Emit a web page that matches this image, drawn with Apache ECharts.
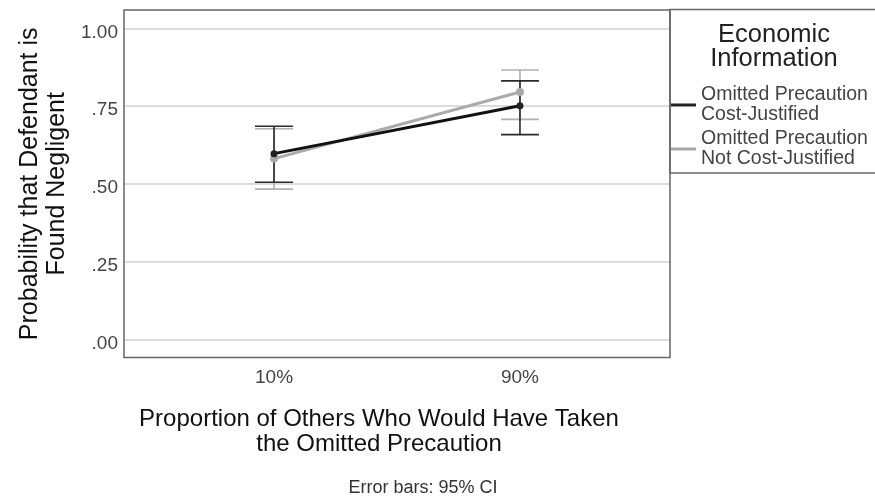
<!DOCTYPE html>
<html>
<head>
<meta charset="utf-8">
<script src="https://cdn.jsdelivr.net/npm/echarts@6/dist/echarts.min.js"></script>
<style>
  html, body { margin: 0; padding: 0; background: #fff; }
  #chart { width: 875px; height: 500px; }
</style>
</head>
<body>
<div id="chart"></div>
<script>
// groups on the x axis (1 = 10%, 2 = 90%)
const categories = ['10%', '90%'];
const xPos = [1, 2];

// Cost-Justified (black)
const justMean = [0.597, 0.751];
const justLow = [0.505, 0.658];
const justHigh = [0.685, 0.831];

// Not Cost-Justified (gray)
const notMean = [0.581, 0.795];
const notLow = [0.483, 0.707];
const notHigh = [0.677, 0.866];

const FONT = 'Liberation Sans, Arial, sans-serif';

function pairs(ys) {
  return xPos.map((x, i) => [x, ys[i]]);
}
function errData(lo, hi) {
  return xPos.map((x, i) => [x, lo[i], hi[i]]);
}

function errorBar(color, width) {
  return function (params, api) {
    const x = api.value(0);
    const top = api.coord([x, api.value(2)]);
    const bot = api.coord([x, api.value(1)]);
    const hw = 19;
    const style = { stroke: color, lineWidth: width };
    return {
      type: 'group',
      children: [
        { type: 'line', shape: { x1: top[0], y1: top[1], x2: bot[0], y2: bot[1] }, style: style },
        { type: 'line', shape: { x1: top[0] - hw, y1: top[1], x2: top[0] + hw, y2: top[1] }, style: style },
        { type: 'line', shape: { x1: bot[0] - hw, y1: bot[1], x2: bot[0] + hw, y2: bot[1] }, style: style }
      ]
    };
  };
}

const chart = echarts.init(document.getElementById('chart'));
chart.setOption({
  animation: false,
  textStyle: { fontFamily: FONT },
  grid: { left: 124, right: 205, top: 28.3, bottom: 160.7, containLabel: false, outerBoundsMode: 'none' },
  title: {
    text: 'Economic\nInformation',
    left: 774, top: 23, textAlign: 'center', padding: 0,
    textStyle: { fontFamily: FONT, fontWeight: 'normal', fontSize: 25.5, color: '#222', lineHeight: 24 }
  },
  legend: {
    orient: 'vertical',
    left: 671, top: 85, padding: 0,
    itemWidth: 25, itemHeight: 3, itemGap: 4,
    icon: 'rect',
    textStyle: { fontFamily: FONT, fontSize: 19.5, color: '#444', lineHeight: 20 },
    data: ['Omitted Precaution\nCost-Justified', 'Omitted Precaution\nNot Cost-Justified']
  },
  xAxis: {
    type: 'value', min: 0.39, max: 2.61,
    axisLine: { show: false }, axisTick: { show: false },
    splitLine: { show: false },
    axisLabel: {
      customValues: xPos,
      formatter: v => categories[xPos.indexOf(v)] || '',
      color: '#444', fontSize: 19, margin: 29, fontFamily: FONT
    },
    name: 'Proportion of Others Who Would Have Taken\nthe Omitted Precaution',
    nameLocation: 'middle', nameGap: 68,
    nameTextStyle: { fontSize: 24, color: '#111', lineHeight: 25, fontFamily: FONT, padding: [0, 36, 0, 0] }
  },
  yAxis: {
    type: 'value', min: 0, max: 1, interval: 0.25,
    axisLine: { show: false }, axisTick: { show: false },
    splitLine: { lineStyle: { color: '#dcdcdc', width: 2 } },
    axisLabel: {
      formatter: v => v === 1 ? '1.00' : v.toFixed(2).replace(/^0/, ''),
      color: '#444', fontSize: 19, margin: 6, fontFamily: FONT,
      verticalAlign: 'top', lineHeight: 8
    },
    name: 'Probability that Defendant is\nFound Negligent',
    nameLocation: 'middle', nameGap: 53,
    nameTextStyle: { fontSize: 25, color: '#111', lineHeight: 27, fontFamily: FONT }
  },
  graphic: [
    { type: 'rect', shape: { x: 124, y: 10, width: 546, height: 347.5 },
      style: { fill: 'none', stroke: '#666', lineWidth: 1.5 }, silent: true, z: 10 },
    { type: 'rect', shape: { x: 670, y: 9.5, width: 215, height: 163.5 },
      style: { fill: 'none', stroke: '#666', lineWidth: 1.5 }, silent: true, z: 10 },
    { type: 'text',
      style: { text: 'Error bars: 95% CI', x: 423, y: 488, align: 'center', verticalAlign: 'middle',
               font: '18px ' + FONT, fill: '#333' },
      silent: true }
  ],
  series: [
    {
      name: 'errJust', type: 'custom', data: errData(justLow, justHigh),
      renderItem: errorBar('#2a2a2a', 1.6), z: 3
    },
    {
      name: 'errNot', type: 'custom', data: errData(notLow, notHigh),
      renderItem: errorBar('#b0b0b0', 1.6), z: 2
    },
    {
      name: 'Omitted Precaution\nCost-Justified', type: 'line', data: pairs(justMean),
      color: '#111', lineStyle: { width: 3, color: '#111' },
      symbol: 'circle', symbolSize: 7, itemStyle: { color: '#222' }, z: 5
    },
    {
      name: 'Omitted Precaution\nNot Cost-Justified', type: 'line', data: pairs(notMean),
      color: '#aaa', lineStyle: { width: 3, color: '#aaa' },
      symbol: 'circle', symbolSize: 8, itemStyle: { color: '#a8a8a8' }, z: 4
    }
  ]
});
</script>
</body>
</html>
